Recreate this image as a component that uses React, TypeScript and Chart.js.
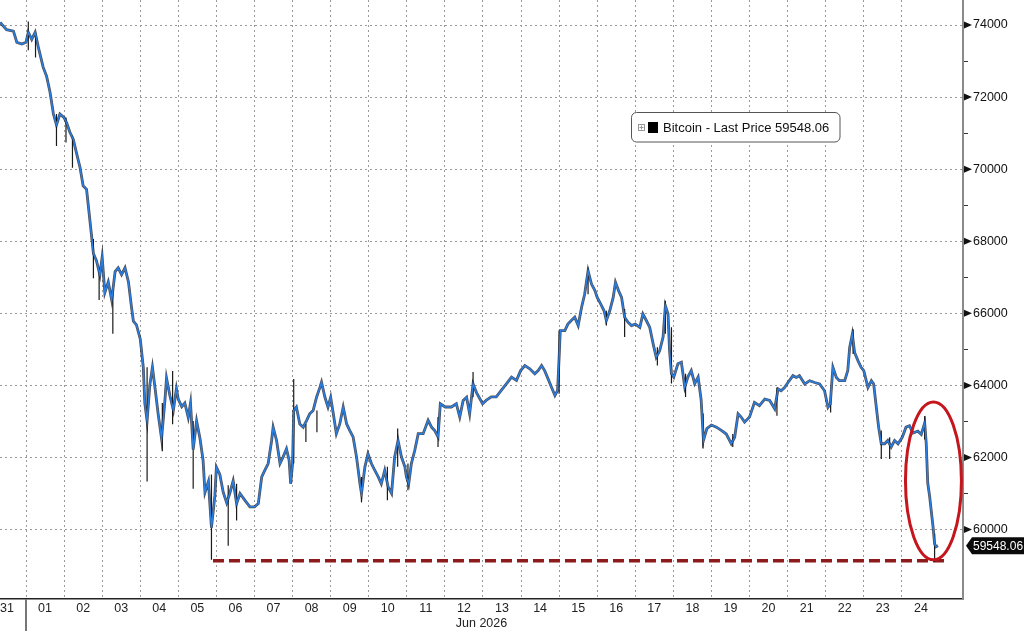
import React, { useEffect, useRef } from 'react';
import { Chart, registerables } from 'chart.js';

Chart.register(...registerables);

// ---------- data ----------
const dayLabels = ['31', '01', '02', '03', '04', '05', '06', '07', '08', '09', '10', '11', '12', '13', '14', '15', '16', '17', '18', '19', '20', '21', '22', '23', '24'];
const monthLabel = 'Jun 2026';
const seriesName = 'Bitcoin - Last Price';
const lastPrice = 59548.06;
const yTickValues = [60000, 61000, 62000, 63000, 64000, 65000, 66000, 67000, 68000, 69000, 70000, 71000, 72000, 73000, 74000];

// time in days since start of Jun 01
const times = [
  -0.68, -0.51, -0.33, -0.24, -0.11, 0.0, 0.06, 0.15, 0.24, 0.32, 0.45, 0.54, 0.63, 0.72, 0.8, 0.89,
  1.0, 1.07, 1.15, 1.24, 1.33, 1.42, 1.5, 1.59, 1.64, 1.72, 1.77, 1.85, 1.94,
  2.0, 2.07, 2.16, 2.25, 2.34, 2.42, 2.51, 2.6, 2.69, 2.77, 2.82, 2.9,
  3.0, 3.08, 3.12, 3.18, 3.25, 3.32, 3.39, 3.47, 3.56, 3.65, 3.69, 3.78, 3.87, 3.95,
  4.0, 4.09, 4.17, 4.26, 4.32, 4.39, 4.48, 4.57, 4.65, 4.7, 4.79, 4.87, 4.96,
  5.0, 5.09, 5.18, 5.27, 5.35, 5.44, 5.53, 5.62, 5.75, 5.88,
  6.0, 6.1, 6.19, 6.27, 6.36, 6.45, 6.49, 6.58, 6.67, 6.75, 6.84, 6.91, 6.95,
  7.0, 7.03, 7.1, 7.19, 7.28, 7.37, 7.45, 7.54, 7.63, 7.72, 7.76, 7.85, 7.93,
  8.0, 8.07, 8.15, 8.24, 8.33, 8.42, 8.5, 8.59, 8.68, 8.77, 8.81, 8.9, 8.98,
  9.07, 9.16, 9.25, 9.33, 9.42, 9.51, 9.6, 9.68, 9.77, 9.86, 9.95, 9.99,
  10.05, 10.12, 10.21, 10.3, 10.43, 10.56, 10.65, 10.73, 10.82, 10.88,
  11.01, 11.17, 11.3, 11.39, 11.48, 11.57, 11.65, 11.74, 11.83, 11.99,
  12.09, 12.22, 12.35, 12.48, 12.62, 12.75, 12.88, 12.99,
  13.1, 13.23, 13.36, 13.45, 13.54, 13.62, 13.71, 13.8, 13.89, 13.96,
  14.0, 14.03, 14.15, 14.23, 14.32, 14.41, 14.5, 14.59, 14.67, 14.76, 14.85, 14.94,
  15.0, 15.09, 15.18, 15.24, 15.33, 15.42, 15.48, 15.56, 15.64, 15.72, 15.81, 15.9,
  16.0, 16.12, 16.2, 16.29, 16.38, 16.47, 16.55, 16.64, 16.73, 16.79, 16.86, 16.9, 16.95,
  17.01, 17.12, 17.21, 17.3, 17.38, 17.47, 17.56, 17.65, 17.73, 17.79, 17.88,
  18.0, 18.13, 18.26, 18.39, 18.52, 18.61, 18.7, 18.78, 18.87,
  19.0, 19.13, 19.26, 19.4, 19.53, 19.66, 19.75, 19.83, 19.92,
  20.01, 20.14, 20.23, 20.31, 20.45, 20.58, 20.71, 20.84, 20.97,
  21.06, 21.12, 21.19, 21.28, 21.36, 21.5, 21.58, 21.63, 21.7, 21.76, 21.85, 21.93,
  22.0, 22.11, 22.2, 22.26, 22.33, 22.39, 22.46, 22.55, 22.63, 22.72, 22.81, 22.9,
  23.01, 23.11, 23.2, 23.29, 23.42, 23.51, 23.6, 23.64, 23.68, 23.73, 23.77, 23.82, 23.86, 23.89, 23.95,
];

const closes = [
  74070, 73870, 73830, 73520, 73470, 73520, 73800, 73600, 73800, 73400, 72830, 72580, 72140, 71530, 71230, 71530,
  71430, 71280, 71030, 70830, 70430, 70040, 69540, 69440, 68950, 68160, 67660, 67460, 67070,
  67560, 66570, 66870, 66370, 67160, 67260, 67070, 67260, 66870, 66170, 65780, 65680,
  65290, 64500, 63510, 63020, 64000, 64500, 63910, 63210, 62520, 63610, 64200, 63710, 63310, 63910,
  63610, 63410, 63510, 63110, 63510, 62220, 63010, 62520, 61920, 61030, 61330, 60050, 60940,
  61730, 61530, 61030, 60740, 61000, 61350, 60720, 61000, 60810, 60630,
  60630, 60720, 61460, 61640, 61830, 62470, 62840, 62470, 61830, 62010, 62240, 61920, 61270,
  61830, 63300, 63400, 62930, 62840, 63030, 63210, 63300, 63670, 63950, 64090, 63670, 63400,
  63670, 63210, 62660, 62930, 63400, 62930, 62750, 62570, 62010, 61270, 61000, 61740, 62100,
  61830, 61640, 61460, 61270, 61640, 61180, 61000, 62010, 62470, 62010, 61740, 61460,
  61270, 61830, 62200, 62660, 62660, 63030, 62840, 62750, 62570, 63490,
  63400, 63400, 63490, 63120, 63580, 63670, 63210, 64040, 63800, 63490,
  63590, 63680, 63680, 63860, 64050, 64230, 64140, 64410,
  64550, 64460, 64320, 64410, 64550, 64410, 64180, 63950, 63720, 63860,
  64780, 65520, 65520, 65700, 65800, 65890, 65660, 66170, 66530, 67180, 66810, 66630,
  66440, 66260, 66070, 65800, 66070, 66440, 66860, 66630, 66440, 65890, 65750, 65660,
  65700, 65610, 65980, 65800, 65610, 65150, 64780, 64960, 65340, 66210, 65980, 64960, 64320,
  64230, 64600, 64640, 63950, 64230, 64410, 64050, 64230, 63590, 62470, 62800,
  62900, 62840, 62750, 62650, 62380, 62560, 63210, 63120, 62980,
  63120, 63530, 63440, 63620, 63580, 63350, 63900, 63850, 63940,
  64080, 64270, 64220, 64270, 64040, 64130, 64080, 64040, 63850,
  63390, 63480, 64500, 64220, 64130, 64130, 64410, 65050, 65420, 64910, 64680, 64500,
  64410, 63940, 64130, 64040, 63390, 62840, 62380, 62380, 62470, 62290, 62470, 62380,
  62560, 62840, 62880, 62680, 62730, 62640, 62960, 62400, 61290, 60920, 60540, 60070, 59610, 59520, 59548.06,
];

// high/low wicks of the notable candles
const wickTimes = [0.06, 0.25, 0.8, 1.05, 1.22, 1.77, 1.92, 2.28, 3.18, 3.58, 3.85, 4.39, 4.87, 5.31, 5.53, 7.03, 7.35, 7.64, 8.81, 9.49, 9.76, 10.03, 10.82, 11.74, 14.0, 14.76, 15.24, 15.72, 16.58, 16.79, 16.95, 17.32, 17.78, 18.56, 19.72, 21.13, 21.72, 22.46, 22.68, 23.6, 23.86];
const wickLows = [73300, 73100, 70640, 70740, 70040, 66970, 66370, 65430, 61330, 62170, 62920, 61130, 59160, 59550, 60250, 61830, 62430, 62700, 60760, 60810, 61740, 61090, 62290, 63670, 63770, 66530, 65660, 65340, 64550, 65430, 64050, 63680, 62250, 62290, 63160, 63250, 64870, 61960, 61960, 62500, 59100];
const wickHighs = [74100, 73800, 71530, 71430, 70930, 68060, 67260, 66670, 64500, 63510, 64400, 63010, 61530, 61230, 61270, 64180, 62930, 63300, 61460, 61740, 62800, 61830, 63120, 64370, 65520, 67270, 66070, 66120, 65060, 66350, 65610, 64320, 63220, 62650, 63940, 63710, 65560, 62750, 62560, 63150, 59890];

// support level annotation (dashed line) and highlight ellipse
const supportLevel = 59130;
const supportFrom = 4.91;
const supportTo = 24.22;
const ellipseCenterDay = 23.83;
const ellipseCenterPrice = 61350;
const ellipseHalfDays = 0.735;
const ellipseHalfPrice = 2190;

const xMin = -0.683;
const xMax = 24.606;
const yMin = 58072;
const yMax = 74694;

const FONT = '"Liberation Sans", Arial, sans-serif';

const noPad = (s: any) => {
  s.paddingTop = 0;
  s.paddingBottom = 0;
  s.paddingLeft = 0;
  s.paddingRight = 0;
};

const overlayPlugin = {
  id: 'overlay',
  afterDraw(chart: any) {
    const ctx = chart.ctx as CanvasRenderingContext2D;
    const x = chart.scales.x;
    const y = chart.scales.y;
    const area = chart.chartArea;
    ctx.save();

    // ellipse highlight
    const cx = x.getPixelForValue(ellipseCenterDay);
    const cy = y.getPixelForValue(ellipseCenterPrice);
    const rx = Math.abs(x.getPixelForValue(ellipseCenterDay + ellipseHalfDays) - cx);
    const ry = Math.abs(y.getPixelForValue(ellipseCenterPrice + ellipseHalfPrice) - cy);
    ctx.beginPath();
    ctx.ellipse(cx, cy, rx, ry, 0, 0, Math.PI * 2);
    ctx.strokeStyle = '#c4161c';
    ctx.lineWidth = 3;
    ctx.stroke();

    // month separator below the axis
    const sx = x.getPixelForValue(0);
    ctx.beginPath();
    ctx.moveTo(sx, area.bottom);
    ctx.lineTo(sx, chart.height);
    ctx.strokeStyle = '#777';
    ctx.lineWidth = 2;
    ctx.stroke();

    // right-axis triangles on major ticks
    ctx.fillStyle = '#111';
    for (const v of yTickValues) {
      if (v % 2000 !== 0) continue;
      const py = y.getPixelForValue(v);
      ctx.beginPath();
      ctx.moveTo(area.right + 1, py - 3.5);
      ctx.lineTo(area.right + 9, py);
      ctx.lineTo(area.right + 1, py + 3.5);
      ctx.closePath();
      ctx.fill();
    }

    // last price tag
    const ly = y.getPixelForValue(lastPrice);
    const lx = area.right + 3;
    ctx.beginPath();
    ctx.moveTo(lx, ly);
    ctx.lineTo(lx + 6, ly - 8.5);
    ctx.lineTo(chart.width, ly - 8.5);
    ctx.lineTo(chart.width, ly + 8.5);
    ctx.lineTo(lx + 6, ly + 8.5);
    ctx.closePath();
    ctx.fillStyle = '#0a0a0a';
    ctx.fill();
    ctx.fillStyle = '#fff';
    ctx.font = `12px ${FONT}`;
    ctx.textBaseline = 'middle';
    ctx.textAlign = 'left';
    ctx.fillText(lastPrice.toFixed(2), lx + 7, ly + 0.5);

    // legend box
    const bx = 631.5, by = 112.5, bw = 208.5, bh = 29.5;
    ctx.beginPath();
    (ctx as any).roundRect(bx, by, bw, bh, 5);
    ctx.fillStyle = '#fff';
    ctx.fill();
    ctx.strokeStyle = '#555';
    ctx.lineWidth = 1;
    ctx.stroke();
    // small expand icon
    ctx.strokeStyle = '#999';
    ctx.strokeRect(638.5, 124.5, 6, 6);
    ctx.beginPath();
    ctx.moveTo(639.5, 127.5); ctx.lineTo(643.5, 127.5);
    ctx.moveTo(641.5, 125.5); ctx.lineTo(641.5, 129.5);
    ctx.stroke();
    ctx.fillStyle = '#000';
    ctx.fillRect(648, 122, 10, 11);
    ctx.fillStyle = '#111';
    ctx.font = `13px ${FONT}`;
    ctx.fillText(`${seriesName} ${lastPrice.toFixed(2)}`, 663, 128);

    ctx.restore();
  },
};

export default function App() {
  const ref = useRef<HTMLCanvasElement>(null);

  useEffect(() => {
    document.body.style.margin = '0';
    document.body.style.background = '#fff';
    const canvas = ref.current!;
    const closeData = times.map((t, i) => ({ x: t, y: closes[i] }));
    const wickData: any[] = [];
    wickTimes.forEach((t, i) => {
      wickData.push({ x: t, y: wickLows[i] }, { x: t, y: wickHighs[i] }, { x: t, y: null });
    });

    const chart = new Chart(canvas, {
      type: 'line',
      data: {
        datasets: [
          {
            label: 'support',
            data: [{ x: supportFrom, y: supportLevel }, { x: supportTo, y: supportLevel }],
            borderColor: '#8e1b1b',
            borderWidth: 3.5,
            borderDash: [11, 5],
            pointRadius: 0,
            order: 3,
          },
          {
            label: 'wicks',
            data: wickData,
            borderColor: '#1a1a1a',
            borderWidth: 1.2,
            pointRadius: 0,
            spanGaps: false,
            order: 2,
          },
          {
            label: 'outline',
            data: closeData,
            borderColor: 'rgba(15,15,25,0.75)',
            borderWidth: 2.8,
            pointRadius: 0,
            tension: 0,
            order: 1,
          },
          {
            label: seriesName,
            data: closeData,
            borderColor: '#2a7fe0',
            borderWidth: 1.5,
            pointRadius: 0,
            tension: 0,
            order: 0,
          },
        ],
      },
      options: {
        responsive: false,
        animation: false,
        events: [],
        layout: { padding: 0, autoPadding: false },
        plugins: { legend: { display: false }, tooltip: { enabled: false } },
        scales: {
          x: {
            type: 'linear',
            position: 'bottom',
            weight: 0,
            min: xMin,
            max: xMax,
            afterBuildTicks: (s: any) => {
              s.ticks = dayLabels.slice(1).map((_, i) => ({ value: i }));
            },
            afterFit: (s: any) => { s.height = 0; noPad(s); },
            ticks: { display: false },
            grid: { color: '#9a9a9a', lineWidth: 1, drawTicks: false },
            border: { display: true, color: '#222', width: 1.5, dash: [2, 3] },
          },
          xLabels: {
            type: 'linear',
            position: 'bottom',
            weight: 1,
            min: xMin,
            max: xMax,
            afterBuildTicks: (s: any) => {
              s.ticks = dayLabels.map((_, i) => ({ value: i - 0.5 }));
            },
            afterFit: (s: any) => { s.height = 32; noPad(s); },
            ticks: {
              autoSkip: false,
              maxRotation: 0,
              padding: 2,
              color: '#222',
              font: { family: FONT, size: 12.5 },
              callback: (_v: any, i: number) => dayLabels[i],
            },
            grid: { display: false, drawTicks: false },
            border: { display: false },
            title: {
              display: true,
              text: monthLabel,
              color: '#222',
              font: { family: FONT, size: 12.5 },
              padding: 0,
            },
          },
          y: {
            type: 'linear',
            position: 'right',
            min: yMin,
            max: yMax,
            afterBuildTicks: (s: any) => {
              s.ticks = yTickValues.map((v) => ({ value: v }));
            },
            afterFit: (s: any) => { s.width = 61; noPad(s); },
            ticks: {
              padding: 5,
              color: '#111',
              font: { family: FONT, size: 12.5 },
              callback: (v: any) => (v % 2000 === 0 ? String(v) : ''),
            },
            grid: {
              color: (c: any) => (c.tick && c.tick.value % 2000 === 0 ? '#9a9a9a' : 'rgba(0,0,0,0)'),
              tickColor: (c: any) => (c.tick && c.tick.value % 2000 === 0 ? 'rgba(0,0,0,0)' : '#333'),
              tickLength: 5,
              tickWidth: 1,
            },
            border: { display: true, color: '#8a8a8a', width: 2, dash: [2, 3] },
          },
        },
      },
      plugins: [overlayPlugin],
    } as any);

    return () => chart.destroy();
  }, []);

  return (
    <div style={{ width: 1024, height: 631, background: '#fff' }}>
      <canvas ref={ref} width={1024} height={631} style={{ display: 'block' }} />
    </div>
  );
}
